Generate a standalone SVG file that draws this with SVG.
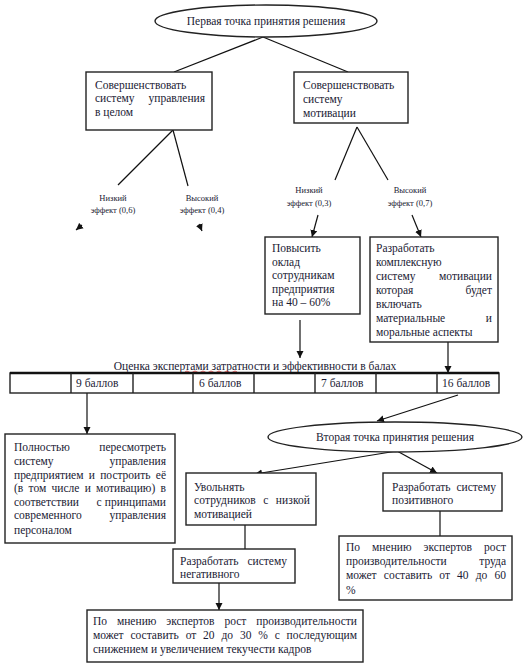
<svg xmlns="http://www.w3.org/2000/svg" width="527" height="667" viewBox="0 0 527 667" font-family="'Liberation Serif', 'DejaVu Serif', serif">
<defs>
<marker id="ah" markerWidth="8" markerHeight="8" refX="7" refY="4" orient="auto" markerUnits="userSpaceOnUse">
<path d="M0,0.5 L7,4 L0,7.5 Z" fill="#111"/>
</marker>
</defs>
<style>
text{font-family:'Liberation Serif','DejaVu Serif',serif}
.t{font-size:11.5px;fill:#1a1a33}
.s{font-size:8.5px;fill:#1a1a33;text-anchor:middle}
.c{text-anchor:middle}
.e{text-anchor:end}
.b{fill:#fff;stroke:#222;stroke-width:1.4}
.l{stroke:#111;stroke-width:1.2;fill:none}
.a{stroke:#111;stroke-width:1.2;fill:none;marker-end:url(#ah)}
</style>
<rect width="527" height="667" fill="#fff"/>

<g id="connectors">
<line class="l" x1="263" y1="37" x2="174" y2="72"/>
<line class="l" x1="263" y1="37" x2="348" y2="72"/>
<line class="l" x1="173" y1="130" x2="118" y2="185"/>
<line class="l" x1="173" y1="130" x2="188" y2="186"/>
<line class="l" x1="357" y1="127" x2="335" y2="180"/>
<line class="l" x1="357" y1="127" x2="388" y2="180"/>
<line class="a" x1="82" y1="225" x2="76" y2="230"/>
<line class="a" x1="199" y1="224" x2="202" y2="231"/>
<line class="a" x1="318" y1="215" x2="312" y2="237"/>
<line class="a" x1="412" y1="215" x2="421" y2="237"/>
<line class="a" x1="300" y1="320" x2="300" y2="358"/>
<line class="a" x1="448" y1="342" x2="448" y2="373"/>
<line class="a" x1="87" y1="393" x2="87" y2="434"/>
<line class="a" x1="458" y1="395" x2="377" y2="421"/>
<line class="a" x1="397" y1="451" x2="255" y2="474"/>
<line class="a" x1="397" y1="451" x2="437" y2="473"/>
<line class="l" x1="245" y1="525" x2="245" y2="549"/>
<line class="l" x1="440" y1="511" x2="440" y2="536"/>
<line class="a" x1="219" y1="583" x2="219" y2="610"/>
</g>

<g id="decision1">
<ellipse class="b" cx="266" cy="21" rx="111" ry="16"/>
<text class="t c" x="266" y="25">Первая точка принятия решения</text>
</g>

<g id="box-upravlenie">
<rect class="b" x="86" y="72" width="126" height="58"/>
<text class="t" x="95" y="89">Совершенствовать</text>
<text class="t" x="95" y="102">систему</text>
<text class="t e" x="205" y="102">управления</text>
<text class="t" x="95" y="116">в целом</text>
</g>

<g id="box-motivacia">
<rect class="b" x="294" y="72" width="114" height="51"/>
<text class="t" x="303" y="89">Совершенствовать</text>
<text class="t" x="303" y="103">систему</text>
<text class="t" x="303" y="117">мотивации</text>
</g>

<g id="label-low1">
<text class="s" x="113" y="201">Низкий</text>
<text class="s" x="113" y="213">эффект (0,6)</text>
</g>
<g id="label-high1">
<text class="s" x="202" y="201">Высокий</text>
<text class="s" x="202" y="213">эффект (0,4)</text>
</g>
<g id="label-low2">
<text class="s" x="309" y="193">Низкий</text>
<text class="s" x="309" y="206">эффект (0,3)</text>
</g>
<g id="label-high2">
<text class="s" x="410" y="193">Высокий</text>
<text class="s" x="410" y="206">эффект (0,7)</text>
</g>

<g id="box-oklad">
<rect class="b" x="265" y="237" width="95" height="77"/>
<text class="t" x="272" y="252">Повысить</text>
<text class="t" x="272" y="265.5">оклад</text>
<text class="t" x="272" y="279">сотрудникам</text>
<text class="t" x="272" y="292.5">предприятия</text>
<text class="t" x="272" y="306">на 40 – 60%</text>
</g>

<g id="box-kompleks">
<rect class="b" x="370" y="237" width="128" height="105"/>
<text class="t" x="376" y="252">Разработать</text>
<text class="t" x="376" y="266">комплексную</text>
<text class="t" x="376" y="280">систему</text>
<text class="t e" x="492" y="280">мотивации</text>
<text class="t" x="376" y="294">которая</text>
<text class="t e" x="492" y="294">будет</text>
<text class="t" x="376" y="308">включать</text>
<text class="t" x="376" y="322">материальные</text>
<text class="t e" x="492" y="322">и</text>
<text class="t" x="376" y="336">моральные аспекты</text>
</g>

<g id="table-ocenka">
<text class="t c" x="255" y="370">Оценка экспертами затратности и  эффективности в балах</text>
<path d="M185,372 q2,-2 4,0 t4,0 t4,0 t4,0 t4,0 t4,0 t4,0 t4,0 t4,0 t4,0 t4,0 t4,0 t4,0" fill="none" stroke="#e03030" stroke-width="0.8"/>
<rect x="10" y="373" width="489" height="20" fill="#fff" stroke="#222" stroke-width="1.4"/>
<line x1="10" y1="373" x2="499" y2="373" stroke="#111" stroke-width="2.5"/>
<g stroke="#222" stroke-width="1.4">
<line x1="71" y1="373" x2="71" y2="393"/>
<line x1="133" y1="373" x2="133" y2="393"/>
<line x1="193" y1="373" x2="193" y2="393"/>
<line x1="254" y1="373" x2="254" y2="393"/>
<line x1="315" y1="373" x2="315" y2="393"/>
<line x1="376" y1="373" x2="376" y2="393"/>
<line x1="437" y1="373" x2="437" y2="393"/>
</g>
<text class="t" x="76" y="387">9 баллов</text>
<text class="t" x="199" y="387">6 баллов</text>
<text class="t" x="321" y="387">7 баллов</text>
<text class="t" x="442" y="387">16 баллов</text>
</g>

<g id="box-peresmotr">
<rect class="b" x="5" y="434" width="170" height="109"/>
<text class="t" x="14" y="451">Полностью</text>
<text class="t e" x="166" y="451">пересмотреть</text>
<text class="t" x="14" y="465">систему</text>
<text class="t e" x="166" y="465">управления</text>
<text class="t" x="14" y="479" word-spacing="2.5" textLength="152" lengthAdjust="spacing">предприятием и построить её</text>
<text class="t" x="14" y="492" word-spacing="2.4" textLength="152" lengthAdjust="spacing">(в том числе и мотивацию) в</text>
<text class="t" x="14" y="506">соответствии</text>
<text class="t c" x="99" y="506">с</text>
<text class="t e" x="166" y="506">принципами</text>
<text class="t" x="14" y="519">современного</text>
<text class="t e" x="166" y="519">управления</text>
<text class="t" x="14" y="534">персоналом</text>
</g>

<g id="decision2">
<ellipse class="b" cx="395" cy="437" rx="127" ry="15"/>
<text class="t c" x="395" y="441">Вторая точка принятия решения</text>
</g>

<g id="box-uvolnyat">
<rect class="b" x="186" y="473" width="130" height="52"/>
<text class="t" x="194" y="491">Увольнять</text>
<text class="t" x="194" y="504" word-spacing="4.4" textLength="116" lengthAdjust="spacing">сотрудников с низкой</text>
<text class="t" x="194" y="518">мотивацией</text>
</g>

<g id="box-pozitiv">
<rect class="b" x="383" y="473" width="119" height="38"/>
<text class="t" x="392" y="491">Разработать</text>
<text class="t e" x="496" y="491">систему</text>
<text class="t" x="392" y="504">позитивного</text>
</g>

<g id="box-rost-40-60">
<rect class="b" x="339" y="536" width="173" height="64"/>
<text class="t" x="346" y="551" word-spacing="9" textLength="160" lengthAdjust="spacing">По мнению экспертов рост</text>
<text class="t" x="346" y="565">производительности</text>
<text class="t e" x="506" y="565">труда</text>
<text class="t" x="346" y="579" word-spacing="4.3" textLength="160" lengthAdjust="spacing">может составить от 40 до 60</text>
<text class="t" x="346" y="594">%</text>
</g>

<g id="box-negativ">
<rect class="b" x="173" y="549" width="122" height="34"/>
<text class="t" x="180" y="565">Разработать</text>
<text class="t e" x="287" y="565">систему</text>
<text class="t" x="180" y="578">негативного</text>
</g>

<g id="box-rost-20-30">
<rect class="b" x="87" y="610" width="276" height="52"/>
<text class="t" x="93" y="625" word-spacing="7" textLength="264" lengthAdjust="spacing">По мнению экспертов рост производительности</text>
<text class="t" x="93" y="639" word-spacing="4" textLength="264" lengthAdjust="spacing">может составить от 20 до 30 % с последующим</text>
<text class="t" x="93" y="653">снижением и увеличением текучести кадров</text>
</g>
</svg>
